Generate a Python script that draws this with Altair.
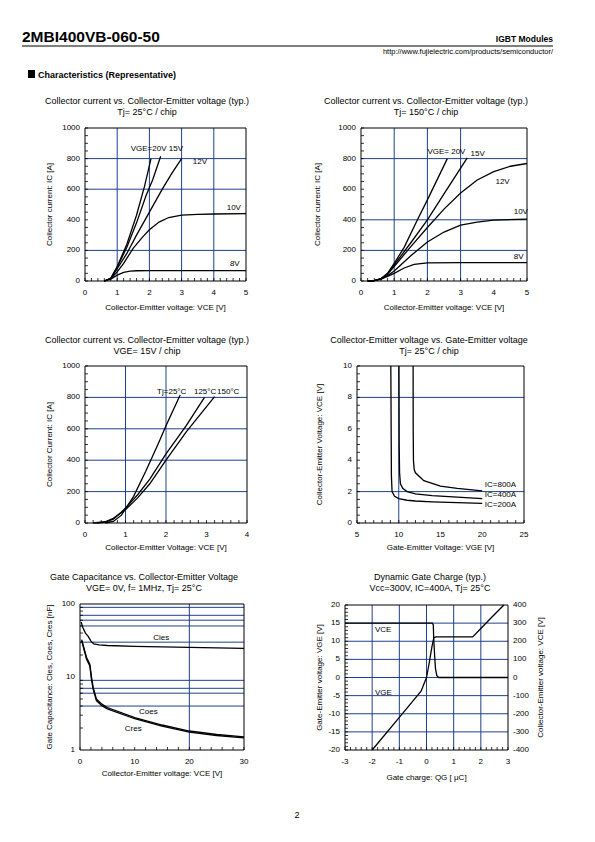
import altair as alt
import pandas as pd

FONT = "Liberation Sans"
GRID = "#1f3f8f"
M = 8  # page margin

# ---------------- data ----------------
# Panel 1: Tj = 25C
p1_x_20 = [0.6, 0.8, 1.0, 1.3, 1.6, 1.85, 2.05]
p1_y_20 = [0, 18, 95, 240, 430, 620, 800]
p1_x_15 = [0.6, 0.8, 1.0, 1.3, 1.6, 1.9, 2.1, 2.35]
p1_y_15 = [0, 18, 90, 220, 380, 560, 660, 815]
p1_x_12 = [0.6, 0.8, 1.0, 1.3, 1.6, 2.0, 2.4, 2.7, 3.0]
p1_y_12 = [0, 16, 80, 180, 300, 450, 600, 705, 800]
p1_x_10 = [0.6, 0.8, 1.0, 1.2, 1.5, 1.8, 2.0, 2.3, 2.6, 3.0, 3.5, 4.0, 5.0]
p1_y_10 = [0, 15, 60, 115, 215, 290, 335, 385, 415, 430, 436, 438, 440]
p1_x_8 = [0.6, 0.8, 1.0, 1.2, 1.4, 1.6, 2.0, 3.0, 4.0, 5.0]
p1_y_8 = [0, 12, 38, 56, 64, 67, 68, 68, 68, 68]
p1_labels = ["VGE=20V 15V", "12V", "10V", "8V"]
p1_lab_x = [1.42, 3.35, 4.4, 4.5]
p1_lab_y = [860, 780, 475, 110]

# Panel 2: Tj = 150C
p2_x_20 = [0.2, 0.4, 0.6, 0.8, 1.0, 1.3, 1.7, 2.0, 2.6]
p2_y_20 = [0, 3, 15, 50, 115, 220, 400, 530, 800]
p2_x_15 = [0.2, 0.4, 0.6, 0.8, 1.0, 1.5, 2.0, 2.5, 3.2]
p2_y_15 = [0, 3, 15, 48, 105, 250, 400, 570, 805]
p2_x_12 = [0.2, 0.4, 0.6, 0.8, 1.0, 1.5, 2.0, 2.5, 3.0, 3.5, 4.0, 4.5, 5.0]
p2_y_12 = [0, 3, 14, 45, 95, 225, 350, 470, 575, 660, 715, 750, 768]
p2_x_10 = [0.2, 0.4, 0.6, 0.8, 1.0, 1.5, 2.0, 2.5, 3.0, 3.5, 4.0, 5.0]
p2_y_10 = [0, 3, 13, 35, 65, 165, 255, 320, 365, 385, 398, 405]
p2_x_8 = [0.2, 0.4, 0.6, 0.8, 1.0, 1.3, 1.6, 2.0, 3.0, 5.0]
p2_y_8 = [0, 3, 12, 30, 50, 85, 108, 118, 120, 120]
p2_labels = ["VGE= 20V", "15V", "12V", "10V", "8V"]
p2_lab_x = [2.0, 3.3, 4.05, 4.6, 4.6]
p2_lab_y = [840, 830, 650, 450, 160]

# Panel 3: VGE = 15V
p3_x_25 = [0.5, 0.7, 0.9, 1.0, 1.2, 1.5, 1.8, 2.0, 2.35]
p3_y_25 = [0, 10, 50, 90, 170, 330, 500, 620, 815]
p3_x_125 = [0.3, 0.5, 0.7, 0.9, 1.0, 1.3, 1.6, 2.0, 2.5, 2.95]
p3_y_125 = [0, 5, 25, 70, 95, 180, 280, 440, 620, 800]
p3_x_150 = [0.2, 0.5, 0.7, 0.9, 1.0, 1.3, 1.6, 2.0, 2.5, 3.2]
p3_y_150 = [0, 8, 30, 65, 85, 160, 250, 400, 580, 805]
p3_labels = ["Tj=25°C", "125°C", "150°C"]
p3_lab_x = [1.78, 2.69, 3.26]
p3_lab_y = [835, 835, 835]

# Panel 4: VCE vs VGE
p4_x_200 = [9.05, 9.08, 9.12, 9.2, 9.5, 10, 11, 12, 14, 17, 20]
p4_y_200 = [10, 7, 3, 2.0, 1.7, 1.55, 1.45, 1.4, 1.35, 1.3, 1.25]
p4_x_400 = [10.02, 10.05, 10.1, 10.2, 10.5, 11, 12, 14, 17, 20]
p4_y_400 = [10, 5, 3.2, 2.5, 2.2, 2.0, 1.85, 1.75, 1.65, 1.55]
p4_x_800 = [11.72, 11.73, 11.76, 11.85, 12.0, 13, 15, 17, 20]
p4_y_800 = [10, 6, 4.0, 3.4, 3.2, 2.7, 2.35, 2.2, 2.05]
p4_labels = ["IC=800A", "IC=400A", "IC=200A"]
p4_lab_x = [20.3, 20.3, 20.3]
p4_lab_y = [2.4, 1.8, 1.15]

# Panel 5: capacitance (nF)
p5_x_cies = [0.2, 0.5, 1, 1.5, 2, 2.5, 3.5, 5, 10, 15, 20, 25, 30]
p5_y_cies = [57, 48, 40, 36, 31, 28.5, 27.5, 27, 26.3, 25.8, 25.5, 25, 24.7]
p5_x_coes = [0.3, 1.2, 1.8, 2.1, 2.4, 3.0, 4.0, 5.0, 10, 15, 20, 25, 30]
p5_y_coes = [32.5, 18.5, 15, 10, 7.2, 5.0, 4.25, 3.82, 2.78, 2.2, 1.82, 1.63, 1.51]
p5_x_cres = [0.3, 1.2, 1.8, 2.1, 2.4, 3.0, 4.0, 5.0, 10, 15, 20, 25, 30]
p5_y_cres = [31.5, 17.5, 14.2, 9.3, 6.8, 4.75, 4.05, 3.66, 2.68, 2.12, 1.76, 1.58, 1.47]
p5_labels = ["Cies", "Coes", "Cres"]
p5_lab_x = [13.4, 10.8, 8.2]
p5_lab_y = [34, 3.3, 1.95]

# Panel 6: gate charge
p6_x_vge = [-2.0, -1.0, -0.2, 0.0, 0.1, 0.2, 0.27, 0.35, 1.7, 2.0, 2.4, 2.85]
p6_y_vge = [-20, -11, -3.8, 0, 4, 8.5, 11, 11.2, 11.2, 13.5, 16.6, 20]
p6_x_vce = [-3.0, 0.22, 0.25, 0.27, 0.3, 0.33, 0.38, 0.45, 3.0]
p6_y_vce = [300, 300, 290, 200, 120, 50, 10, 0, 0]
p6_labels = ["VCE", "VGE"]
p6_lab_x = [-1.9, -1.9]
p6_lab_y = [13.0, -4.2]

header_title = "2MBI400VB-060-50"
header_right = "IGBT Modules"
header_url = "http://www.fujielectric.com/products/semiconductor/"
header_section = "Characteristics (Representative)"
page_number = "2"


def frange(a, b, step):
    out, v = [], a
    while v <= b + 1e-9:
        out.append(round(v, 6))
        v += step
    return out


def curves_df(pairs):
    rows = []
    for name, xs, ys in pairs:
        for i, (x, y) in enumerate(zip(xs, ys)):
            rows.append({"s": name, "i": i, "x": x, "y": y})
    return pd.DataFrame(rows)


def lab_df(t, x, y):
    return pd.DataFrame({"t": t, "x": x, "y": y})


def tick_df(col, vals):
    return pd.DataFrame({col: vals, "t": [str(v) for v in vals]})


ONE = pd.DataFrame({"a": [0]})


def static_text(text, x, y, size=8, bold=False, align="center", angle=0, baseline="alphabetic"):
    kw = dict(text=text, font=FONT, fontSize=size, align=align, baseline=baseline, color="black")
    if bold:
        kw["fontWeight"] = "bold"
    if angle:
        kw["angle"] = angle
    return alt.Chart(ONE).mark_text(**kw).encode(x=alt.value(x - M), y=alt.value(y - M))


# ---------------- layout (page pixels: left, right, top, bottom) ----------------
BOX = {
    1: (85, 246, 128, 281),
    2: (361, 527, 128, 281),
    3: (85, 247, 366, 523),
    4: (357, 524, 366, 523),
    5: (80, 244, 604, 750),
    6: (345, 508, 605, 750),
}


def panel(k, xdom, ydom, xticks, yticks, xgrid, ygrid, xminor, yminor, curves, labels,
          titles, title_cx, title_base, xtitle, xtitle_y, ytitle, ytitle_x, ylog=False):
    L, R, T, B = BOX[k]
    l, r, t, b = L - M, R - M, T - M, B - M
    xs = alt.Scale(domain=xdom, range=[l, r], nice=False, zero=False)
    if ylog:
        ys = alt.Scale(type="log", domain=ydom, range=[b, t], nice=False)
    else:
        ys = alt.Scale(domain=ydom, range=[b, t], nice=False, zero=False)
    X = alt.X("x:Q", scale=xs, axis=None)
    Y = alt.Y("y:Q", scale=ys, axis=None)
    layers = []
    if xgrid:
        layers.append(alt.Chart(pd.DataFrame({"x": xgrid})).mark_rule(
            color=GRID, strokeWidth=1).encode(x=X, y=alt.value(t), y2=alt.value(b)))
    if ygrid:
        layers.append(alt.Chart(pd.DataFrame({"y": ygrid})).mark_rule(
            color=GRID, strokeWidth=1).encode(y=Y, x=alt.value(l), x2=alt.value(r)))
    layers.append(alt.Chart(pd.DataFrame({"x": xminor})).mark_rule(
        color="black", strokeWidth=0.8).encode(x=X, y=alt.value(b), y2=alt.value(b - 3)))
    layers.append(alt.Chart(pd.DataFrame({"y": yminor})).mark_rule(
        color="black", strokeWidth=0.8).encode(y=Y, x=alt.value(l), x2=alt.value(l + 3)))
    layers.append(alt.Chart(ONE).mark_rect(fillOpacity=0, stroke="black", strokeWidth=1).encode(
        x=alt.value(l), x2=alt.value(r), y=alt.value(t), y2=alt.value(b)))
    layers.append(alt.Chart(curves).mark_line(color="black", strokeWidth=1.3).encode(
        x=X, y=Y, detail="s:N", order="i:Q"))
    layers.append(alt.Chart(labels).mark_text(
        font=FONT, fontSize=8, align="left", baseline="middle", color="black").encode(
        x=X, y=Y, text="t:N"))
    layers.append(alt.Chart(tick_df("x", xticks)).mark_text(
        font=FONT, fontSize=8, align="center", baseline="middle", color="black").encode(
        x=X, y=alt.value(b + 12), text="t:N"))
    layers.append(alt.Chart(tick_df("y", yticks)).mark_text(
        font=FONT, fontSize=8, align="right", baseline="middle", color="black").encode(
        y=Y, x=alt.value(l - 5), text="t:N"))
    layers.append(static_text(titles[0], title_cx, title_base, size=9))
    layers.append(static_text(titles[1], title_cx, title_base + 11, size=9))
    layers.append(static_text(xtitle, (L + R) / 2, xtitle_y, baseline="middle"))
    layers.append(static_text(ytitle, ytitle_x, (T + B) / 2, angle=270, baseline="middle"))
    return alt.layer(*layers)


p1 = panel(1, [0, 5], [0, 1000], [0, 1, 2, 3, 4, 5], frange(0, 1000, 200),
           [1, 2, 3, 4], [200, 600, 800], frange(0, 5, 0.2), frange(0, 1000, 50),
           curves_df([("20", p1_x_20, p1_y_20), ("15", p1_x_15, p1_y_15),
                      ("12", p1_x_12, p1_y_12), ("10", p1_x_10, p1_y_10),
                      ("8", p1_x_8, p1_y_8)]),
           lab_df(p1_labels, p1_lab_x, p1_lab_y),
           ["Collector current vs. Collector-Emitter voltage (typ.)", "Tj= 25°C / chip"], 147, 104,
           "Collector-Emitter voltage: VCE [V]", 308, "Collector current: IC [A]", 50)

p2 = panel(2, [0, 5], [0, 1000], [0, 1, 2, 3, 4, 5], frange(0, 1000, 200),
           [1, 2, 3], [200, 400, 800], frange(0, 5, 0.2), frange(0, 1000, 50),
           curves_df([("20", p2_x_20, p2_y_20), ("15", p2_x_15, p2_y_15),
                      ("12", p2_x_12, p2_y_12), ("10", p2_x_10, p2_y_10),
                      ("8", p2_x_8, p2_y_8)]),
           lab_df(p2_labels, p2_lab_x, p2_lab_y),
           ["Collector current vs. Collector-Emitter voltage (typ.)", "Tj= 150°C / chip"], 426, 104,
           "Collector-Emitter voltage: VCE [V]", 308, "Collector current: IC [A]", 318)

p3 = panel(3, [0, 4], [0, 1000], [0, 1, 2, 3, 4], frange(0, 1000, 200),
           [1, 2], [200, 400, 600, 800], frange(0, 4, 0.2), frange(0, 1000, 50),
           curves_df([("25", p3_x_25, p3_y_25), ("125", p3_x_125, p3_y_125),
                      ("150", p3_x_150, p3_y_150)]),
           lab_df(p3_labels, p3_lab_x, p3_lab_y),
           ["Collector current vs. Collector-Emitter voltage (typ.)", "VGE= 15V / chip"], 147, 343,
           "Collector-Emitter Voltage: VCE [V]", 548, "Collector Current: IC [A]", 50)

p4 = panel(4, [5, 25], [0, 10], [5, 10, 15, 20, 25], [0, 2, 4, 6, 8, 10],
           [10], [2, 8], frange(5, 25, 1), frange(0, 10, 0.5),
           curves_df([("200", p4_x_200, p4_y_200), ("400", p4_x_400, p4_y_400),
                      ("800", p4_x_800, p4_y_800)]),
           lab_df(p4_labels, p4_lab_x, p4_lab_y),
           ["Collector-Emitter voltage  vs. Gate-Emitter voltage", "Tj= 25°C / chip"], 429, 343,
           "Gate-Emitter Voltage: VGE [V]", 548, "Collector-Emitter Voltage: VCE [V]", 320)

p5 = panel(5, [0, 30], [1, 100], [0, 10, 20, 30], [1, 10, 100],
           [20], [4, 6, 7, 9, 30, 50, 60, 70, 90], frange(0, 30, 2),
           [2, 3, 4, 5, 6, 7, 8, 9, 20, 30, 40, 50, 60, 70, 80, 90],
           curves_df([("cies", p5_x_cies, p5_y_cies), ("coes", p5_x_coes, p5_y_coes),
                      ("cres", p5_x_cres, p5_y_cres)]),
           lab_df(p5_labels, p5_lab_x, p5_lab_y),
           ["Gate Capacitance vs. Collector-Emitter Voltage", "VGE= 0V, f= 1MHz, Tj= 25°C"], 144, 580,
           "Collector-Emitter voltage: VCE [V]", 774, "Gate Capacitance: Cies, Coes, Cres [nF]", 50,
           ylog=True)

p6 = panel(6, [-3, 3], [-20, 20], [-3, -2, -1, 0, 1, 2, 3], frange(-20, 20, 5),
           [-2, -1, 0, 1, 2], [-15, -10, -5, 0, 5, 10, 15], frange(-3, 3, 0.2),
           frange(-20, 20, 1),
           curves_df([("vge", p6_x_vge, p6_y_vge)]),
           lab_df(p6_labels, p6_lab_x, p6_lab_y),
           ["Dynamic Gate Charge (typ.)", "Vcc=300V, IC=400A, Tj= 25°C"], 430, 580,
           "Gate charge: QG [ μC]", 778, "Gate-Emitter voltage: VGE [V]", 320)

# right axis of panel 6 (VCE)
L6, R6, T6, B6 = BOX[6]
x6 = alt.X("x:Q", scale=alt.Scale(domain=[-3, 3], range=[L6 - M, R6 - M], nice=False, zero=False),
           axis=None)
y6 = alt.Y("y:Q", scale=alt.Scale(domain=[-400, 400], range=[B6 - M, T6 - M], nice=False,
                                  zero=False), axis=None)
p6r = alt.layer(
    alt.Chart(curves_df([("vce", p6_x_vce, p6_y_vce)])).mark_line(
        color="black", strokeWidth=1.3).encode(x=x6, y=y6, detail="s:N", order="i:Q"),
    alt.Chart(tick_df("y", frange(-400, 400, 100))).mark_text(
        font=FONT, fontSize=8, align="left", baseline="middle", color="black").encode(
        y=y6, x=alt.value(R6 - M + 5), text="t:N"),
    static_text("Collector-Emitter voltage: VCE [V]", 541, (T6 + B6) / 2, angle=270,
                baseline="middle"),
)

header = [
    static_text(header_title, 22, 42, size=15.5, bold=True, align="left"),
    alt.Chart(ONE).mark_rule(color="black", strokeWidth=1).encode(
        x=alt.value(22 - M), x2=alt.value(553 - M), y=alt.value(46 - M)),
    static_text(header_right, 553, 42, size=8.5, bold=True, align="right"),
    static_text(header_url, 553, 54, size=7.5, align="right"),
    alt.Chart(ONE).mark_rect(color="black").encode(
        x=alt.value(28 - M), x2=alt.value(35 - M), y=alt.value(70 - M), y2=alt.value(78 - M)),
    static_text(header_section, 38, 78, size=9, bold=True, align="left"),
    static_text(page_number, 297, 818, size=9),
]

chart = alt.layer(p1, p2, p3, p4, p5, p6, p6r, *header).resolve_scale(
    x="independent", y="independent"
).properties(
    width=560, height=815,
    autosize=alt.AutoSizeParams(type="none"), padding=0,
    view=alt.ViewBackground(stroke="transparent", strokeWidth=0, fill="transparent"),
).configure_view(stroke="transparent", strokeWidth=0).configure(background="transparent")

chart.save("out.html", embed_options={"renderer": "svg", "actions": False})
